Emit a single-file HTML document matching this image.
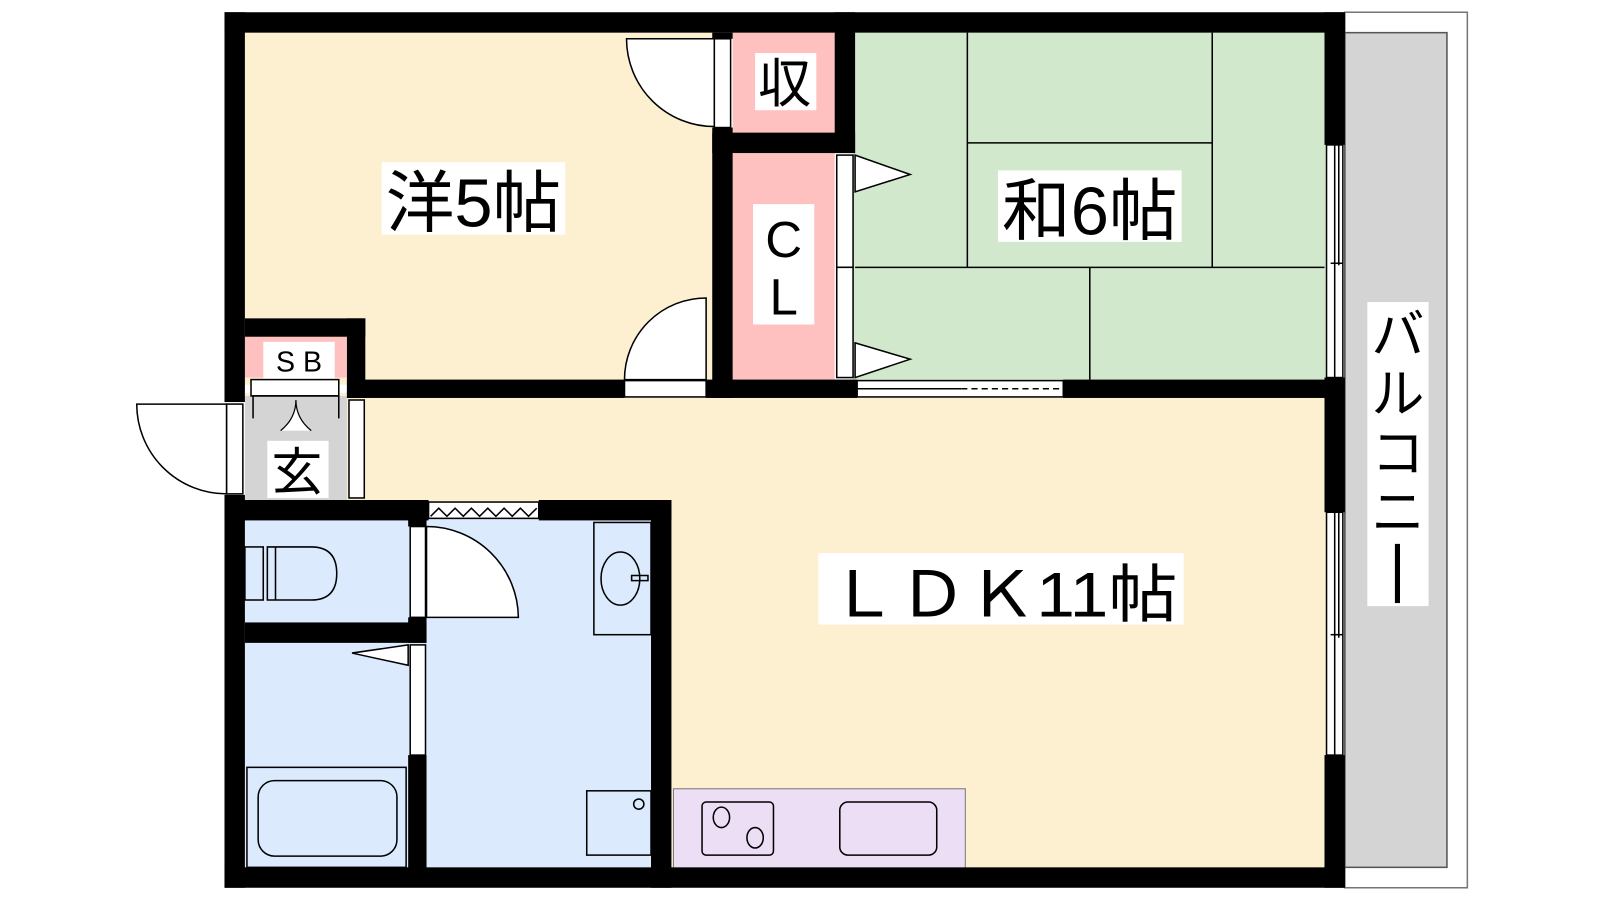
<!DOCTYPE html>
<html><head><meta charset="utf-8"><style>
html,body{margin:0;padding:0;background:#fff;}
svg{display:block;}
text{font-family:"Liberation Sans","Noto Sans CJK JP",sans-serif;fill:#000;}
</style></head><body>
<svg width="1600" height="900" viewBox="0 0 1568 882" xmlns="http://www.w3.org/2000/svg">
<rect x="1318" y="12" width="120" height="858" fill="#fff" stroke="#777" stroke-width="1.5"/>
<rect x="1318" y="32" width="100" height="818" fill="#d4d4d4" stroke="#555" stroke-width="1.5"/>
<rect x="240" y="32" width="460" height="345" fill="#fdf0d0"/>
<rect x="240" y="385" width="1060" height="470" fill="#fdf0d0"/>
<rect x="836" y="32" width="464" height="345" fill="#d2e8cc"/>
<rect x="718" y="32" width="100" height="100" fill="#ffc0c0"/>
<rect x="718" y="150" width="100" height="225" fill="#ffc0c0"/>
<rect x="240" y="330" width="100" height="40" fill="#ffc0c0"/>
<rect x="240" y="388" width="100" height="102" fill="#d4d4d4"/>
<rect x="240" y="500" width="400" height="355" fill="#dbeafd"/>
<rect x="660" y="773" width="286" height="80" fill="#ecdff5" stroke="#777" stroke-width="1"/>
<g stroke="#000" stroke-width="1.5" fill="none">
<line x1="948" y1="32" x2="948" y2="262"/>
<line x1="1188" y1="32" x2="1188" y2="262"/>
<line x1="948" y1="140" x2="1188" y2="140"/>
<line x1="838" y1="262" x2="1298" y2="262"/>
<line x1="1068" y1="262" x2="1068" y2="372"/>
</g>
<g fill="#000">
<rect x="220" y="12" width="1098" height="20"/>
<rect x="220" y="850" width="1098" height="20"/>
<rect x="220" y="12" width="20" height="382"/>
<rect x="220" y="485" width="20" height="385"/>
<rect x="1298" y="12" width="20" height="130"/>
<rect x="1298" y="370" width="20" height="132"/>
<rect x="1298" y="740" width="20" height="130"/>
<rect x="240" y="312" width="118" height="18"/>
<rect x="340" y="312" width="18" height="78"/>
<rect x="340" y="372" width="272" height="18"/>
<rect x="692" y="372" width="148" height="18"/>
<rect x="1042" y="372" width="256" height="18"/>
<rect x="698" y="32" width="20" height="6"/>
<rect x="698" y="125" width="20" height="265"/>
<rect x="698" y="130" width="140" height="20"/>
<rect x="818" y="12" width="20" height="138"/>
<rect x="220" y="490" width="200" height="20"/>
<rect x="528" y="490" width="130" height="20"/>
<rect x="638" y="490" width="20" height="380"/>
<rect x="240" y="610" width="178" height="20"/>
<rect x="400" y="500" width="18" height="16"/>
<rect x="400" y="605" width="18" height="25"/>
<rect x="400" y="740" width="18" height="115"/>
</g>
<g fill="#fff" stroke="#000" stroke-width="1.5">
<rect x="612" y="373" width="80" height="16"/>
<rect x="700" y="38" width="16" height="87"/>
<rect x="820" y="152" width="16" height="110"/>
<rect x="820" y="262" width="16" height="108"/>
<rect x="246" y="372" width="86" height="16"/>
<rect x="222" y="396" width="16" height="88"/>
<rect x="342" y="392" width="15" height="96"/>
<rect x="402" y="516" width="15" height="89"/>
<rect x="402" y="632" width="15" height="108"/>
<rect x="420" y="492" width="108" height="16"/>
<rect x="1300" y="142" width="16" height="228"/>
<rect x="1300" y="502" width="16" height="238"/>
<rect x="840" y="373" width="202" height="16"/>
</g>
<g stroke="#000" stroke-width="1.5" fill="none">
<line x1="840" y1="381" x2="942" y2="381"/>
<line x1="942" y1="381" x2="1042" y2="381" stroke-dasharray="6,4"/>
<line x1="1308" y1="142" x2="1308" y2="370"/><line x1="1312" y1="142" x2="1312" y2="260"/>
<line x1="1304" y1="258" x2="1316" y2="258"/>
<line x1="1308" y1="502" x2="1308" y2="740"/><line x1="1312" y1="502" x2="1312" y2="625"/>
<line x1="1304" y1="622" x2="1316" y2="622"/>
<polyline points="422,506 430,498 438,506 446,498 454,506 462,498 470,506 478,498 486,506 494,498 502,506 510,498 518,506 526,498"/>
</g>
<g fill="#fff" stroke="#000" stroke-width="1.5">
<path d="M700,38 L614,38 A86,86 0 0 0 700,124 Z"/>
<path d="M692,372 L612,372 A80,80 0 0 1 692,292 Z"/>
<path d="M222,396 L134,396 A88,88 0 0 0 222,484 Z"/>
<path d="M418,516 L418,605 L508,605 A90,90 0 0 0 418,516 Z"/>
<polygon points="838,152 892,171 838,188"/>
<polygon points="838,336 892,352 838,370"/>
<polygon points="400,632 345,640 400,652"/>
<path d="M248,410 L248,388 L332,388 L332,410" fill="none"/>
</g>
<path d="M275,422 Q290,410 290,392 Q290,410 305,422" fill="#fff" stroke="#000" stroke-width="1.2"/>
<g fill="none" stroke="#000" stroke-width="1.5">
<rect x="240" y="536" width="18" height="52"/>
<path d="M262,536 H305 Q330,536 330,562 Q330,588 305,588 H262 Z"/>
<line x1="270" y1="536" x2="270" y2="588"/>
<rect x="242" y="752" width="156" height="98" fill="#dbeafd"/>
<rect x="253" y="765" width="136" height="74" rx="16"/>
<rect x="582" y="512" width="56" height="110"/>
<ellipse cx="608" cy="567" rx="19" ry="26"/>
<rect x="619" y="564" width="16" height="5"/>
<rect x="575" y="775" width="63" height="63"/>
<circle cx="626" cy="788" r="5"/>
<rect x="688" y="786" width="70" height="52" rx="4"/>
<ellipse cx="707" cy="801" rx="8" ry="10"/>
<ellipse cx="740" cy="821" rx="8" ry="10"/>
<rect x="823" y="786" width="95" height="52" rx="8"/>
</g>
<rect x="374" y="159" width="180" height="71" fill="#fff"/>
<text x="378" y="222" font-size="66" textLength="172" lengthAdjust="spacingAndGlyphs">洋5帖</text>
<rect x="978" y="167" width="180" height="70" fill="#fff"/>
<text x="982" y="230" font-size="66" textLength="172" lengthAdjust="spacingAndGlyphs">和6帖</text>
<rect x="802" y="542" width="358" height="70" fill="#fff"/>
<text x="812" y="604" font-size="62" textLength="342" lengthAdjust="spacingAndGlyphs">ＬＤＫ11帖</text>
<rect x="740" y="52" width="60" height="56" fill="#fff"/>
<text x="743" y="100" font-size="52">収</text>
<rect x="738" y="200" width="60" height="118" fill="#fff"/>
<text x="768" y="252" font-size="50" text-anchor="middle">C</text>
<text x="768" y="308" font-size="50" text-anchor="middle">L</text>
<rect x="258" y="335" width="70" height="36" fill="#fff"/>
<text x="293" y="364" font-size="28" text-anchor="middle">S B</text>
<rect x="262" y="432" width="60" height="56" fill="#fff"/>
<text x="266" y="480" font-size="50">玄</text>
<rect x="1340" y="296" width="60" height="298" fill="#fff"/>
<text x="1370" y="346" font-size="52" text-anchor="middle">バ</text>
<text x="1370" y="404" font-size="52" text-anchor="middle">ル</text>
<text x="1370" y="462" font-size="52" text-anchor="middle">コ</text>
<text x="1370" y="520" font-size="52" text-anchor="middle">ニ</text>
<rect x="1367" y="533" width="5" height="58" fill="#000"/>
</svg>
</body></html>
